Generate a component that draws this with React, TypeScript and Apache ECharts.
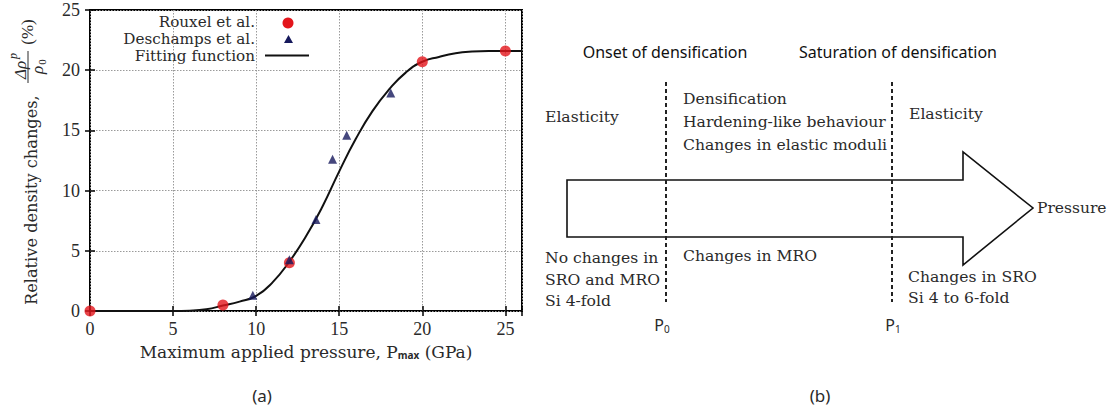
import React, { useEffect, useRef } from "react";
import * as echarts from "echarts";

// ---- data ----
const xTicks = [0, 5, 10, 15, 20, 25];
const yTicks = [0, 5, 10, 15, 20, 25];
const rouxelX = [0, 8, 12, 20, 25];
const rouxelY = [0, 0.5, 4.0, 20.7, 21.6];
const deschampsX = [9.8, 12.0, 13.6, 14.6, 15.45, 18.1];
const deschampsY = [1.3, 4.25, 7.6, 12.6, 14.6, 18.1];
const fitX = [0, 5, 6, 7, 8, 9, 10, 11, 12, 13, 14, 15, 16, 17, 18, 19, 20, 21, 22, 23, 24, 26];
const fitY = [0, 0, 0.03, 0.15, 0.45, 0.78, 1.25, 2.4, 4.1, 6.2, 8.7, 11.6, 14.3, 16.6, 18.4, 19.8, 20.7, 21.1, 21.4, 21.55, 21.6, 21.6];
const legendNames = ["Rouxel et al.", "Deschamps et al.", "Fitting function"];

// right diagram texts
const headerTexts = ["Onset of densification", "Saturation of densification"];
const regionTextsTop = ["Elasticity", "Densification", "Hardening-like behaviour", "Changes in elastic moduli", "Elasticity"];
const regionTextsBottom = ["No changes in", "SRO and MRO", "Si 4-fold", "Changes in MRO", "Changes in SRO", "Si 4 to 6-fold"];

const serif = "'DejaVu Serif', 'Liberation Serif', serif";
const digits = "'Liberation Serif', 'Times New Roman', serif";
const sans = "'Noto Sans', 'DejaVu Sans', sans-serif";
const ink = "#2a2a2a";

export default function App() {
  const ref = useRef<HTMLDivElement>(null);
  useEffect(() => {
    if (!ref.current) return;
    const chart = echarts.init(ref.current, undefined, { renderer: "svg" });
    const R = Math.PI / 2;
    const txt = (text: string, x: number, y: number, extra: any = {}, elProps: any = {}) => ({
      type: "text",
      x,
      y,
      ...elProps,
      style: { text, fill: ink, fontFamily: serif, fontSize: 15.6, align: "left", verticalAlign: "middle", ...extra },
    });
    const graphic: any[] = [
      // y axis name (rotated)
      txt("Relative density changes,", 31, 305, { fontSize: 16.2 }, { rotation: R }),
      txt("Δρ", 20, 70, { fontStyle: "italic", align: "center", fontSize: 17, fontFamily: digits }, { rotation: R }),
      txt("p", 13, 56, { fontStyle: "italic", align: "center", fontSize: 12, fontFamily: digits }, { rotation: R }),
      { type: "line", shape: { x1: 28, y1: 51, x2: 28, y2: 83 }, style: { stroke: ink, lineWidth: 1 } },
      txt("ρ", 37, 70, { fontStyle: "italic", align: "center", fontSize: 17, fontFamily: digits }, { rotation: R }),
      txt("0", 42, 62, { align: "center", fontSize: 11, fontFamily: digits }, { rotation: R }),
      txt("(%)", 27, 32, { align: "center", fontSize: 17, fontFamily: digits }, { rotation: R }),
      // legend
      txt(legendNames[0], 255, 22, { align: "right", fontSize: 15.2 }),
      txt(legendNames[1], 255, 39, { align: "right", fontSize: 15.2 }),
      txt(legendNames[2], 255, 56, { align: "right", fontSize: 15.2 }),
      { type: "circle", shape: { cx: 288, cy: 23, r: 5.5 }, style: { fill: "#e3151b" } },
      { type: "polygon", shape: { points: [[284, 43], [293, 43], [288.5, 35]] }, style: { fill: "#16195c" } },
      { type: "line", shape: { x1: 265, y1: 55.5, x2: 309, y2: 55.5 }, style: { stroke: "#111", lineWidth: 2 } },
      // panel labels
      txt("(a)", 262, 395, { align: "center", fontFamily: sans, fontSize: 17 }),
      txt("(b)", 820, 395, { align: "center", fontFamily: sans, fontSize: 17 }),
      // right diagram: arrow
      {
        type: "polygon",
        shape: { points: [[567, 180], [963, 180], [963, 152], [1033, 208], [963, 265], [963, 237], [567, 237]] },
        style: { fill: "none", stroke: "#111", lineWidth: 1.6 },
      },
      { type: "line", shape: { x1: 666, y1: 82, x2: 666, y2: 302 }, style: { stroke: "#222", lineWidth: 2, lineDash: [4, 3] } },
      { type: "line", shape: { x1: 892, y1: 82, x2: 892, y2: 302 }, style: { stroke: "#222", lineWidth: 2, lineDash: [4, 3] } },
      txt(headerTexts[0], 665, 52, { align: "center", fontFamily: sans, fontSize: 16, fill: "#111" }),
      txt(headerTexts[1], 898, 52, { align: "center", fontFamily: sans, fontSize: 16, fill: "#111" }),
      txt(regionTextsTop[0], 545, 117),
      txt(regionTextsTop[1], 683, 99),
      txt(regionTextsTop[2], 683, 122),
      txt(regionTextsTop[3], 683, 145),
      txt(regionTextsTop[4], 909, 114),
      txt(regionTextsBottom[0], 545, 258),
      txt(regionTextsBottom[1], 545, 280),
      txt(regionTextsBottom[2], 545, 301),
      txt(regionTextsBottom[3], 683, 256),
      txt(regionTextsBottom[4], 908, 277),
      txt(regionTextsBottom[5], 908, 298),
      txt("Pressure", 1037, 208, { fontSize: 15.5 }),
      txt("P{s|0}", 662, 325, { align: "center", fontFamily: sans, fontSize: 16, rich: { s: { fontFamily: sans, fontSize: 10, padding: [8, 0, 0, 0] } } }),
      txt("P{s|1}", 893, 325, { align: "center", fontFamily: sans, fontSize: 16, rich: { s: { fontFamily: sans, fontSize: 10, padding: [8, 0, 0, 0] } } }),
    ];

    const tickStyle = { show: true, inside: true, length: 5, lineStyle: { color: "#000", width: 1.5 } };
    const labelFmt = (v: number) => (xTicks.includes(v) ? String(v) : "");
    const yFmt = (v: number) => (yTicks.includes(v) ? String(v) : "");

    chart.setOption({
      animation: false,
      backgroundColor: "#ffffff",
      grid: { left: 90, top: 10, width: 432, height: 301, show: true, borderColor: "#000", borderWidth: 2, backgroundColor: "transparent" },
      xAxis: [
        {
          type: "value", min: 0, max: 26, interval: 5, position: "bottom",
          axisLine: { show: false },
          axisTick: tickStyle,
          axisLabel: { margin: 9, fontFamily: digits, fontSize: 18, color: ink, formatter: labelFmt },
          splitLine: { show: true, lineStyle: { color: "#9a9a9a", width: 1, type: [1.5, 1.5] } },
          name: "Maximum applied pressure, P{sub|max} (GPa)",
          nameLocation: "middle",
          nameGap: 32,
          nameTextStyle: {
            fontFamily: serif, fontSize: 17, color: ink,
            rich: { sub: { fontFamily: sans, fontSize: 10, fontWeight: "bold", color: ink, padding: [7, 0, 0, 0] } },
          },
        },
        {
          type: "value", min: 0, max: 26, interval: 5, position: "top",
          axisLine: { show: false }, axisTick: tickStyle, axisLabel: { show: false }, splitLine: { show: false },
        },
      ],
      yAxis: [
        {
          type: "value", min: 0, max: 25, interval: 5, position: "left",
          axisLine: { show: false },
          axisTick: tickStyle,
          axisLabel: { margin: 10, fontFamily: digits, fontSize: 18, color: ink, formatter: yFmt },
          splitLine: { show: true, lineStyle: { color: "#9a9a9a", width: 1, type: [1.5, 1.5] } },
        },
        {
          type: "value", min: 0, max: 25, interval: 5, position: "right",
          axisLine: { show: false }, axisTick: tickStyle, axisLabel: { show: false }, splitLine: { show: false },
        },
      ],
      series: [
        {
          name: legendNames[2], type: "line", data: fitX.map((x, i) => [x, fitY[i]]),
          smooth: 0.5, showSymbol: false, symbol: "none",
          lineStyle: { color: "#111", width: 2 }, z: 2,
        },
        {
          name: legendNames[0], type: "scatter", data: rouxelX.map((x, i) => [x, rouxelY[i]]),
          symbol: "circle", symbolSize: 11, itemStyle: { color: "#e3151b" }, clip: false, z: 3,
        },
        {
          name: legendNames[1], type: "scatter", data: deschampsX.map((x, i) => [x, deschampsY[i]]),
          symbol: "triangle", symbolSize: 9, itemStyle: { color: "#16195c" }, clip: false, z: 4,
        },
      ],
      graphic,
    });
    return () => chart.dispose();
  }, []);
  return <div ref={ref} style={{ position: "absolute", left: 0, top: 0, width: 1112, height: 410 }} />;
}
